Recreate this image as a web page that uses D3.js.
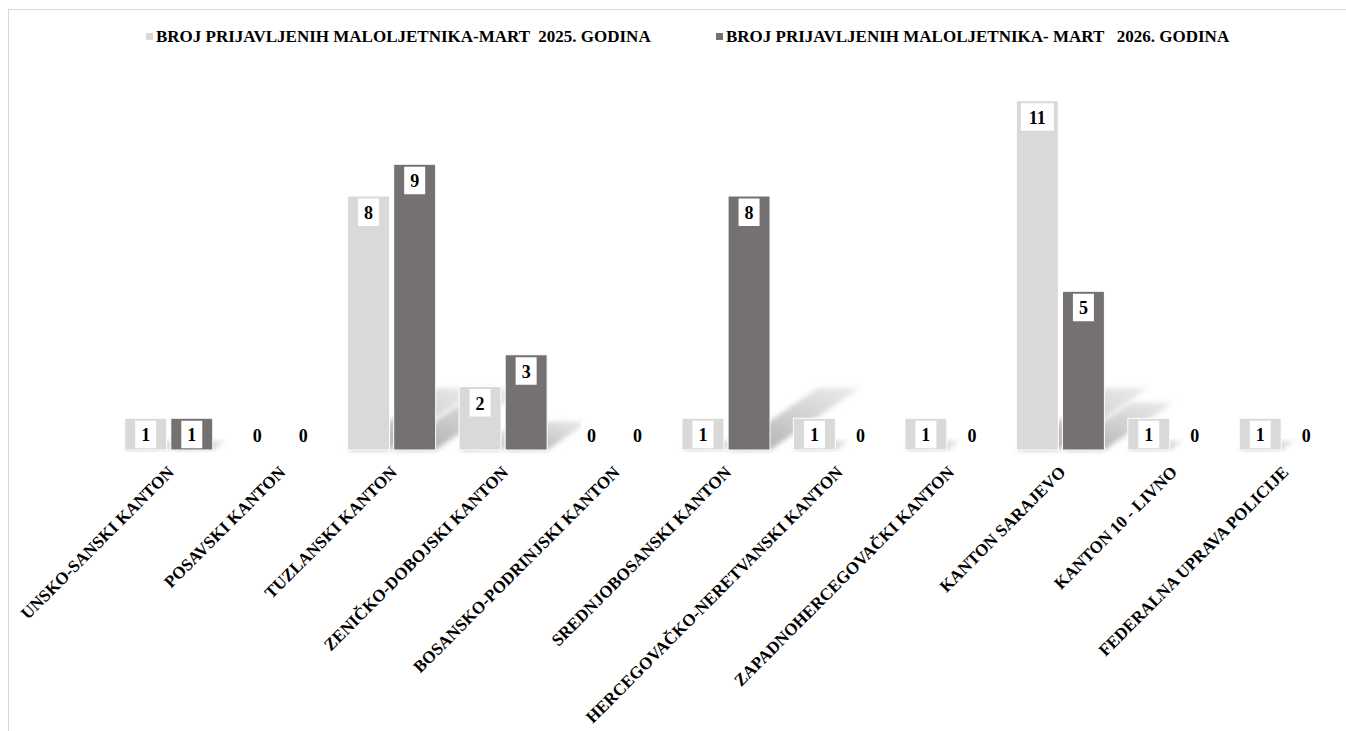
<!DOCTYPE html>
<html>
<head>
<meta charset="utf-8">
<script src="https://cdn.jsdelivr.net/npm/d3@7"></script>
<style>
  body { margin: 0; background: #fff; }
  svg { display: block; }
  .lbl { font-family: "Liberation Serif", "DejaVu Serif", serif; font-weight: bold; }
</style>
</head>
<body>
<div class="container"></div>
<script>
// categories (cantons)
const cantons = [
  "UNSKO-SANSKI KANTON", "POSAVSKI KANTON", "TUZLANSKI KANTON",
  "ZENIČKO-DOBOJSKI KANTON", "BOSANSKO-PODRINJSKI KANTON", "SREDNJOBOSANSKI KANTON",
  "HERCEGOVAČKO-NERETVANSKI KANTON", "ZAPADNOHERCEGOVAČKI KANTON", "KANTON SARAJEVO",
  "KANTON 10 - LIVNO", "FEDERALNA UPRAVA POLICIJE"
];
// series values
const mart2025 = [1, 0, 8, 2, 0, 1, 1, 1, 11, 1, 1];
const mart2026 = [1, 0, 9, 3, 0, 8, 0, 0, 5, 0, 0];
const seriesNames = [
  "BROJ PRIJAVLJENIH MALOLJETNIKA-MART  2025. GODINA",
  "BROJ PRIJAVLJENIH MALOLJETNIKA- MART   2026. GODINA"
];
const seriesColors = ["#d9d9d9", "#767171"];

const w = 1346;
const h = 731;

/* plot area */
const plotLeft = 113, plotRight = 1339, base = 450, plotTop = 69;

const svg = d3.select(".container")
              .append("svg")
              .attr("width", w)
              .attr("height", h);

/* blur filter for the perspective shadows */
const defs = svg.append("defs");
defs.append("filter")
    .attr("id", "blur")
    .attr("x", "-20%").attr("y", "-20%").attr("width", "140%").attr("height", "140%")
    .append("feGaussianBlur")
    .attr("stdDeviation", 2.5);
const grad = defs.append("linearGradient")
    .attr("id", "shade")
    .attr("x1", "0").attr("y1", "1").attr("x2", "1").attr("y2", "0");
grad.append("stop").attr("offset", "0%").attr("stop-color", "#a0a0a0").attr("stop-opacity", 0.95);
grad.append("stop").attr("offset", "100%").attr("stop-color", "#cccccc").attr("stop-opacity", 0.4);

/* chart frame */
svg.append("rect")
   .attr("x", 8.5).attr("y", 9.5)
   .attr("width", w).attr("height", h)
   .attr("fill", "none")
   .attr("stroke", "#d9d9d9");

/* scales */
const x0 = d3.scaleBand()
             .domain(cantons)
             .range([plotLeft, plotRight])
             .paddingInner(0.21)
             .paddingOuter(0.105);
const x1 = d3.scaleBand()
             .domain([0, 1])
             .range([0, x0.bandwidth()])
             .paddingInner(0.09);
const y = d3.scaleLinear()
            .domain([0, 12])
            .range([base, plotTop]);

const rows = cantons.map((c, i) => ({ c, vals: [mart2025[i], mart2026[i]] }));
const marks = [];
rows.forEach(r => r.vals.forEach((v, s) => marks.push({ c: r.c, s, v })));

/* shadows cast up-right behind each bar */
svg.append("g")
   .selectAll("path")
   .data(marks.filter(d => d.v > 0))
   .enter()
   .append("path")
   .attr("d", d => {
       const xa = x0(d.c) + x1(d.s);
       const xb = xa + x1.bandwidth();
       const hh = base - y(d.v);
       const dy = Math.min(hh * 0.3, 62);
       const dx = dy * 1.45;
       return `M${xa},${base}L${xb},${base}L${xb + dx},${base - dy}L${xa + dx},${base - dy}Z`;
   })
   .attr("fill", "url(#shade)")
   .attr("filter", "url(#blur)");

/* bars */
svg.append("g")
   .selectAll("rect")
   .data(marks)
   .enter()
   .append("rect")
   .attr("x", d => x0(d.c) + x1(d.s))
   .attr("y", d => y(d.v))
   .attr("width", x1.bandwidth())
   .attr("height", d => base - y(d.v))
   .attr("fill", d => seriesColors[d.s])
   .attr("stroke", "#fff")
   .attr("stroke-width", 1);

/* data labels in white boxes */
const lab = svg.append("g")
   .selectAll("g")
   .data(marks)
   .enter()
   .append("g")
   .attr("transform", d => {
       const cx = x0(d.c) + x1(d.s) + x1.bandwidth() / 2;
       const ty = Math.min(y(d.v) + 2.5, base - 29);
       return `translate(${cx},${ty})`;
   });
lab.append("rect")
   .attr("x", d => d.v >= 10 ? -16.5 : -10.5)
   .attr("width", d => d.v >= 10 ? 33 : 21)
   .attr("height", 27.5)
   .attr("fill", "#fff");
lab.append("text")
   .attr("class", "lbl")
   .attr("y", 20.5)
   .attr("text-anchor", "middle")
   .attr("font-size", 18)
   .attr("fill", "#000")
   .text(d => d.v);

/* category axis with rotated labels */
const xAxis = d3.axisBottom(x0).tickSize(0).tickPadding(0);
const gx = svg.append("g")
   .attr("transform", "translate(2," + (base + 19) + ")")
   .call(xAxis);
gx.select(".domain").remove();
gx.selectAll("text")
  .attr("class", "lbl")
  .attr("font-size", 17)
  .attr("fill", "#000")
  .attr("text-anchor", "end")
  .attr("dy", "0.35em")
  .attr("transform", "rotate(-45)");

/* legend */
const legendX = [146, 716];
const lg = svg.append("g")
   .selectAll("g")
   .data(seriesNames)
   .enter()
   .append("g")
   .attr("transform", (d, i) => `translate(${legendX[i]},33)`);
lg.append("rect")
  .attr("width", 7).attr("height", 7)
  .attr("fill", (d, i) => seriesColors[i]);
lg.append("text")
  .attr("class", "lbl")
  .attr("x", 10)
  .attr("y", 9)
  .attr("font-size", 17)
  .attr("fill", "#000")
  .style("white-space", "pre")
  .text(d => d);
</script>
</body>
</html>
